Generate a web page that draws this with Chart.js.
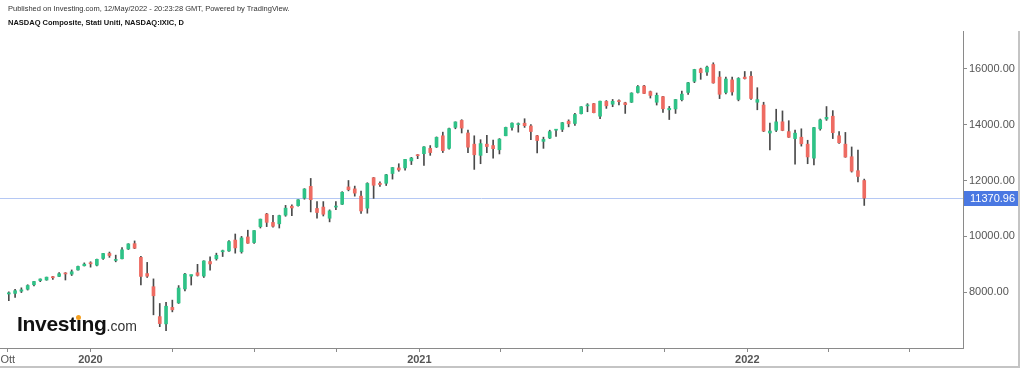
<!DOCTYPE html>
<html>
<head>
<meta charset="utf-8">
<script src="https://cdn.jsdelivr.net/npm/chart.js@4.4.1/dist/chart.umd.min.js"></script>
<style>
  html, body { margin:0; padding:0; background:#fff; }
  #wrap { position:relative; width:1024px; height:370px; overflow:hidden; font-family:"Liberation Sans", Arial, sans-serif; }
  canvas { position:absolute; left:0; top:0; }
  .pub { position:absolute; left:8px; top:4px; font-size:7.5px; color:#333; white-space:nowrap; }
  .name { position:absolute; left:8px; top:18px; font-size:7.5px; font-weight:bold; color:#111; white-space:nowrap; }
  .logo { position:absolute; left:17px; top:312px; font-size:21px; font-weight:bold; color:#111; letter-spacing:-0.3px; white-space:nowrap; }
  .logo small { font-size:14px; font-weight:normal; color:#333; letter-spacing:0; }
  .dot { position:relative; }
  .dot::after { content:''; position:absolute; left:50%; margin-left:-2.5px; top:3px; width:5px; height:5px; border-radius:50%; background:#f5a020; }
</style>
</head>
<body>
<div id="wrap">
  <canvas id="myChart" width="1024" height="370"></canvas>
  <div class="pub">Published on Investing.com, 12/May/2022 - 20:23:28 GMT, Powered by TradingView.</div>
  <div class="name">NASDAQ Composite, Stati Uniti, NASDAQ:IXIC, D</div>
  <div class="logo">Invest<span class="dot">ı</span>ng<small>.com</small></div>
</div>
<script>
// weekly candles, first week starts Mon 30 Sep 2019
const firstWeek = '2019-09-30';

const opens = [7940,7960,8040,8110,8270,8420,8440,8560,8570,8680,
  8650,8800,8950,9040,8970,9210,9390,9140,9200,9550,
  9740,9250,8670,8200,7130,6870,7460,7620,8120,8580,
  8700,8580,9100,9200,9450,9480,9870,9450,9980,9780,
  10350,10800,10500,10450,10760,11080,11100,11370,11790,11000,
  11050,10650,11050,11150,11770,11700,11440,11010,12100,11900,
  11900,12250,12450,12450,12700,12900,12960,13150,13200,13600,
  13150,13900,14150,13700,13300,12900,13300,13250,13100,13600,
  13900,14000,14050,13950,13600,13400,13520,13800,13830,14120,
  14040,14390,14670,14750,14300,14830,14730,14850,14780,14800,
  15150,15380,15180,14800,15000,14530,14560,14890,15150,15550,
  15990,15880,16150,15700,15150,15600,14900,15700,15730,14800,
  14700,13700,13800,14100,13750,13500,13550,13300,12800,13850,
  14200,14300,13600,13300,12850,12350,12000];

const highs = [8017,8107,8160,8270,8390,8480,8545,8575,8705,8705,
  8800,8940,9052,9093,9190,9390,9440,9330,9600,9740,
  9838,9290,9070,8480,7600,7640,7720,8240,8680,8620,
  9000,9130,9270,9400,9510,9850,10086,10000,10222,10210,
  10620,10825,10750,10760,11110,11130,11320,11710,12074,11250,
  11245,10950,11250,11600,12000,11800,11620,11920,12110,11950,
  12220,12470,12600,12760,12830,12930,13210,13250,13560,13730,
  13880,14100,14175,13800,13600,13460,13620,13450,13500,13910,
  14060,14060,14210,14000,13620,13550,13800,13830,14080,14170,
  14400,14645,14750,14760,14840,14860,14900,14890,14800,15140,
  15400,15403,15200,15130,15010,14650,14900,15200,15510,15980,
  16020,16090,16212,15900,15700,15700,15680,15900,15900,15320,
  14800,14050,14550,14490,14140,13800,13850,13440,13900,14200,
  14646,14500,13750,13720,13200,13090,12050];

const lows = [7700,7820,7990,8080,8230,8380,8430,8460,8560,8440,
  8600,8790,8940,8900,8940,9180,9250,9090,9190,9530,
  9560,8264,8530,7194,6770,6631,7300,7600,8050,8260,
  8580,8530,8790,9150,9280,9460,9400,9400,9750,9750,
  10300,10350,10330,10300,10720,10740,11080,11330,10875,10656,
  10730,10520,10960,11140,11630,11440,10822,10830,11360,11790,
  11820,12050,12330,12370,12570,12780,12540,12900,13180,13000,
  13120,13850,13700,13000,12397,12600,13000,12800,12950,13600,
  13800,13730,13900,13460,12985,13150,13500,13580,13750,13920,
  13970,14380,14460,14420,14210,14580,14640,14700,14400,14790,
  15130,15110,14950,14700,14440,14181,14400,14850,15080,15500,
  15620,15760,15480,14930,15100,15050,14850,15630,14900,14530,
  13750,13094,13750,13780,13540,12587,13230,12600,12555,13800,
  14150,13500,13330,12830,12300,11950,11108];

const closes = [7982,8057,8089,8243,8386,8475,8541,8520,8665,8657,
  8735,8925,9006,9020,9179,9389,9315,9151,9520,9731,
  9577,8567,8576,7875,6880,7502,7373,8153,8650,8634,
  8605,9121,9015,9325,9490,9815,9589,9946,9757,10208,
  10617,10503,10363,10745,11011,11019,11311,11695,11313,10854,
  10793,10913,11075,11579,11671,11548,10911,11895,11829,11855,
  12206,12464,12378,12755,12805,12888,13202,12998,13543,13070,
  13856,14095,13875,13192,12920,13320,13215,13139,13480,13900,
  14052,14016,13962,13752,13430,13471,13749,13814,14069,14030,
  14360,14639,14701,14427,14837,14673,14835,14823,14715,15129,
  15363,15115,15044,15048,14567,14580,14897,15090,15498,15971,
  15860,16057,15491,15085,15630,15169,15653,15645,14935,14894,
  13768,13770,14098,13791,13548,13694,13313,12843,13893,14169,
  14261,13711,13351,12839,12335,12145,11370.96];

const tickDates = ['2019-10-01','2020-01-01','2020-04-01','2020-07-01','2020-10-01','2021-01-01',
  '2021-04-01','2021-07-01','2021-10-01','2022-01-01','2022-04-01','2022-07-01'];
const tickLabels = ['Ott','2020','','','','2021','','','','2022','',''];
const priceTicks = [8000, 10000, 12000, 14000, 16000];
const lastPrice = closes[closes.length - 1];

const weekOf = d => (Date.parse(d) - Date.parse(firstWeek)) / (7 * 864e5);
const xs = closes.map((c, i) => i + 0.3); // midweek

const upColor = '#2fc287', downColor = '#ee6b62';

const overlay = {
  id: 'overlay',
  beforeDatasetsDraw(chart) {
    const {ctx, chartArea: a, scales: {y}} = chart;
    const py = Math.round(y.getPixelForValue(lastPrice)) + 0.5;
    ctx.save();
    ctx.strokeStyle = '#b5c8f4';
    ctx.lineWidth = 1;
    ctx.beginPath(); ctx.moveTo(a.left, py); ctx.lineTo(a.right, py); ctx.stroke();
    ctx.restore();
  },
  afterDraw(chart) {
    const {ctx, chartArea: a, scales: {y}} = chart;
    const py = Math.round(y.getPixelForValue(lastPrice));
    ctx.save();
    ctx.fillStyle = '#4a78e2';
    ctx.fillRect(a.right + 1, py - 7, 54, 15);
    ctx.fillStyle = '#fff';
    ctx.font = '11px "Liberation Sans", Arial, sans-serif';
    ctx.textBaseline = 'middle';
    ctx.fillText(lastPrice.toFixed(2), a.right + 7, py + 1);
    // outer frame
    ctx.strokeStyle = '#c4c4c4';
    ctx.lineWidth = 2;
    ctx.beginPath(); ctx.moveTo(1019, a.top); ctx.lineTo(1019, 367); ctx.lineTo(0, 367); ctx.stroke();
    ctx.restore();
  }
};

const chart = new Chart(document.getElementById('myChart'), {
  type: 'bar',
  data: {
    datasets: [
      { // wicks
        data: xs.map((x, i) => ({x: x, y: [lows[i], highs[i]]})),
        backgroundColor: '#4a4a4a',
        barThickness: 1,
        grouped: false,
        order: 2
      },
      { // bodies
        data: xs.map((x, i) => ({x: x, y: [opens[i], closes[i]]})),
        backgroundColor: closes.map((c, i) => c >= opens[i] ? upColor : downColor),
        barThickness: 3,
        minBarLength: 1,
        grouped: false,
        order: 1
      }
    ]
  },
  options: {
    responsive: false,
    animation: false,
    devicePixelRatio: 1,
    layout: { padding: { top: 31, right: 5, bottom: 4, left: 0 } },
    plugins: { legend: { display: false }, tooltip: { enabled: false } },
    scales: {
      x: {
        type: 'linear',
        min: -1.1,
        max: 152,
        offset: false,
        grid: { drawOnChartArea: false, drawTicks: true, tickLength: 4, color: '#8a8a8a', offset: false },
        border: { display: true, color: '#8a8a8a', width: 1 },
        afterBuildTicks: s => { s.ticks = tickDates.map(d => ({value: weekOf(d)})); },
        ticks: {
          autoSkip: false, maxRotation: 0, padding: 1, color: '#555',
          font: c => ({family: '"Liberation Sans", Arial, sans-serif', size: 11,
                       weight: tickLabels[c.index] === 'Ott' ? 'normal' : 'bold'}),
          callback: (v, i) => tickLabels[i]
        },
        afterFit: s => { s.height = 18; s.paddingLeft = 0; s.paddingRight = 0; }
      },
      y: {
        position: 'right',
        min: 6007,
        max: 17349,
        grid: { drawOnChartArea: false, tickLength: 4, color: '#8a8a8a' },
        border: { color: '#8a8a8a', width: 1 },
        afterBuildTicks: s => { s.ticks = priceTicks.map(v => ({value: v})); },
        ticks: {
          padding: 2, color: '#555',
          font: {family: '"Liberation Sans", Arial, sans-serif', size: 11},
          callback: v => v.toFixed(2)
        },
        afterFit: s => { s.width = 56; s.paddingTop = 0; s.paddingBottom = 0; }
      }
    }
  },
  plugins: [overlay]
});
</script>
</body>
</html>
